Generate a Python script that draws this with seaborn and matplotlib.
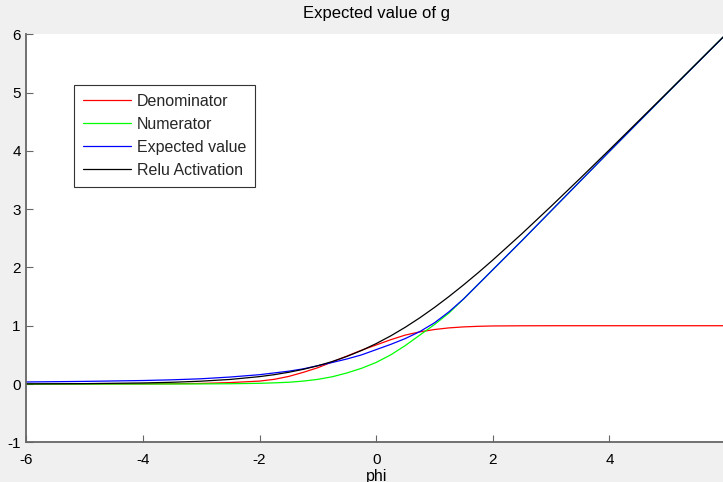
import matplotlib
matplotlib.use("Agg")
import matplotlib.pyplot as plt
import seaborn as sns
import pandas as pd

# Input values
phi = [-6, -5, -4, -3.5, -3, -2.5, -2, -1.75, -1.5, -1.25, -1, -0.75, -0.5, -0.25,
       0, 0.25, 0.5, 0.75, 1, 1.25, 1.5, 1.75, 2, 2.5, 3, 3.5, 4, 5, 6]

denominator = [0.0, 0.0005, 0.002, 0.005, 0.01, 0.025, 0.05, 0.08, 0.13, 0.2, 0.28, 0.38, 0.48, 0.58,
               0.67, 0.76, 0.84, 0.895, 0.935, 0.963, 0.98, 0.99, 0.996, 0.999, 1.0, 1.0, 1.0, 1.0, 1.0]

numerator = [0.0, 0.0, 0.0005, 0.001, 0.002, 0.005, 0.012, 0.02, 0.03, 0.05, 0.08, 0.125, 0.19, 0.27,
             0.37, 0.5, 0.66, 0.84, 1.02, 1.22, 1.46, 1.71, 1.96, 2.46, 2.97, 3.48, 3.99, 5.0, 6.0]

expected = [0.035, 0.045, 0.06, 0.072, 0.09, 0.12, 0.16, 0.19, 0.22, 0.26, 0.315, 0.37, 0.43, 0.5,
            0.59, 0.68, 0.78, 0.9, 1.05, 1.24, 1.46, 1.71, 1.96, 2.46, 2.97, 3.48, 3.99, 5.0, 6.0]

relu = [0.0025, 0.0067, 0.0181, 0.0298, 0.0486, 0.0789, 0.1269, 0.1599, 0.2014, 0.2519, 0.3133,
        0.3868, 0.4741, 0.5759, 0.6931, 0.8259, 0.9741, 1.1368, 1.3133, 1.5019, 1.7014, 1.9099,
        2.1269, 2.5789, 3.0486, 3.5298, 4.0181, 5.0067, 6.0025]

series_names = ["Denominator", "Numerator", "Expected value", "Relu Activation"]
series_values = [denominator, numerator, expected, relu]
series_colors = ["#ff0000", "#00ff00", "#0000ff", "#000000"]

sns.set_theme(style="white")
plt.rcParams["font.family"] = ["Liberation Sans", "DejaVu Sans"]
plt.rcParams["axes.unicode_minus"] = False

W, H = 723, 482
fig = plt.figure(figsize=(W / 100, H / 100), dpi=100, facecolor="#f0f0f0")
ax = fig.add_axes([26.3 / W, 39.7 / H, 699.7 / W, 408 / H])
ax.set_facecolor("white")

for name, vals, color in zip(series_names, series_values, series_colors):
    df = pd.DataFrame({"phi": phi, "value": vals})
    sns.lineplot(data=df, x="phi", y="value", ax=ax, color=color, lw=0.9,
                 label=name, sort=False, estimator=None)

ax.set_xlim(-6, 6)
ax.set_ylim(-1, 6)
ax.set_xticks(range(-6, 7, 2))
ax.set_yticks(range(-1, 7))

for side in ("top", "right"):
    ax.spines[side].set_visible(False)
for side in ("left", "bottom"):
    ax.spines[side].set_color("#666666")
    ax.spines[side].set_linewidth(1.3)

ax.tick_params(direction="in", length=5, width=0.8, color="#666666",
               labelsize=11, labelcolor="black", bottom=True, left=True)
ax.tick_params(axis="x", pad=8)
ax.tick_params(axis="y", pad=4)

ax.set_title("Expected value of g", fontsize=12, pad=12, color="black")
ax.set_xlabel("phi", fontsize=11.5, labelpad=1.5, color="black")
ax.set_ylabel("")

leg = ax.legend(loc="upper left", bbox_to_anchor=(0.0682, 0.8757), borderaxespad=0,
                frameon=True, fancybox=False, edgecolor="#333333", framealpha=1,
                fontsize=11.5, handlelength=3.0, handletextpad=0.4, labelspacing=0.5,
                borderpad=0.55)
leg.get_frame().set_linewidth(0.8)

fig.savefig("out.png", dpi=100, facecolor=fig.get_facecolor())
